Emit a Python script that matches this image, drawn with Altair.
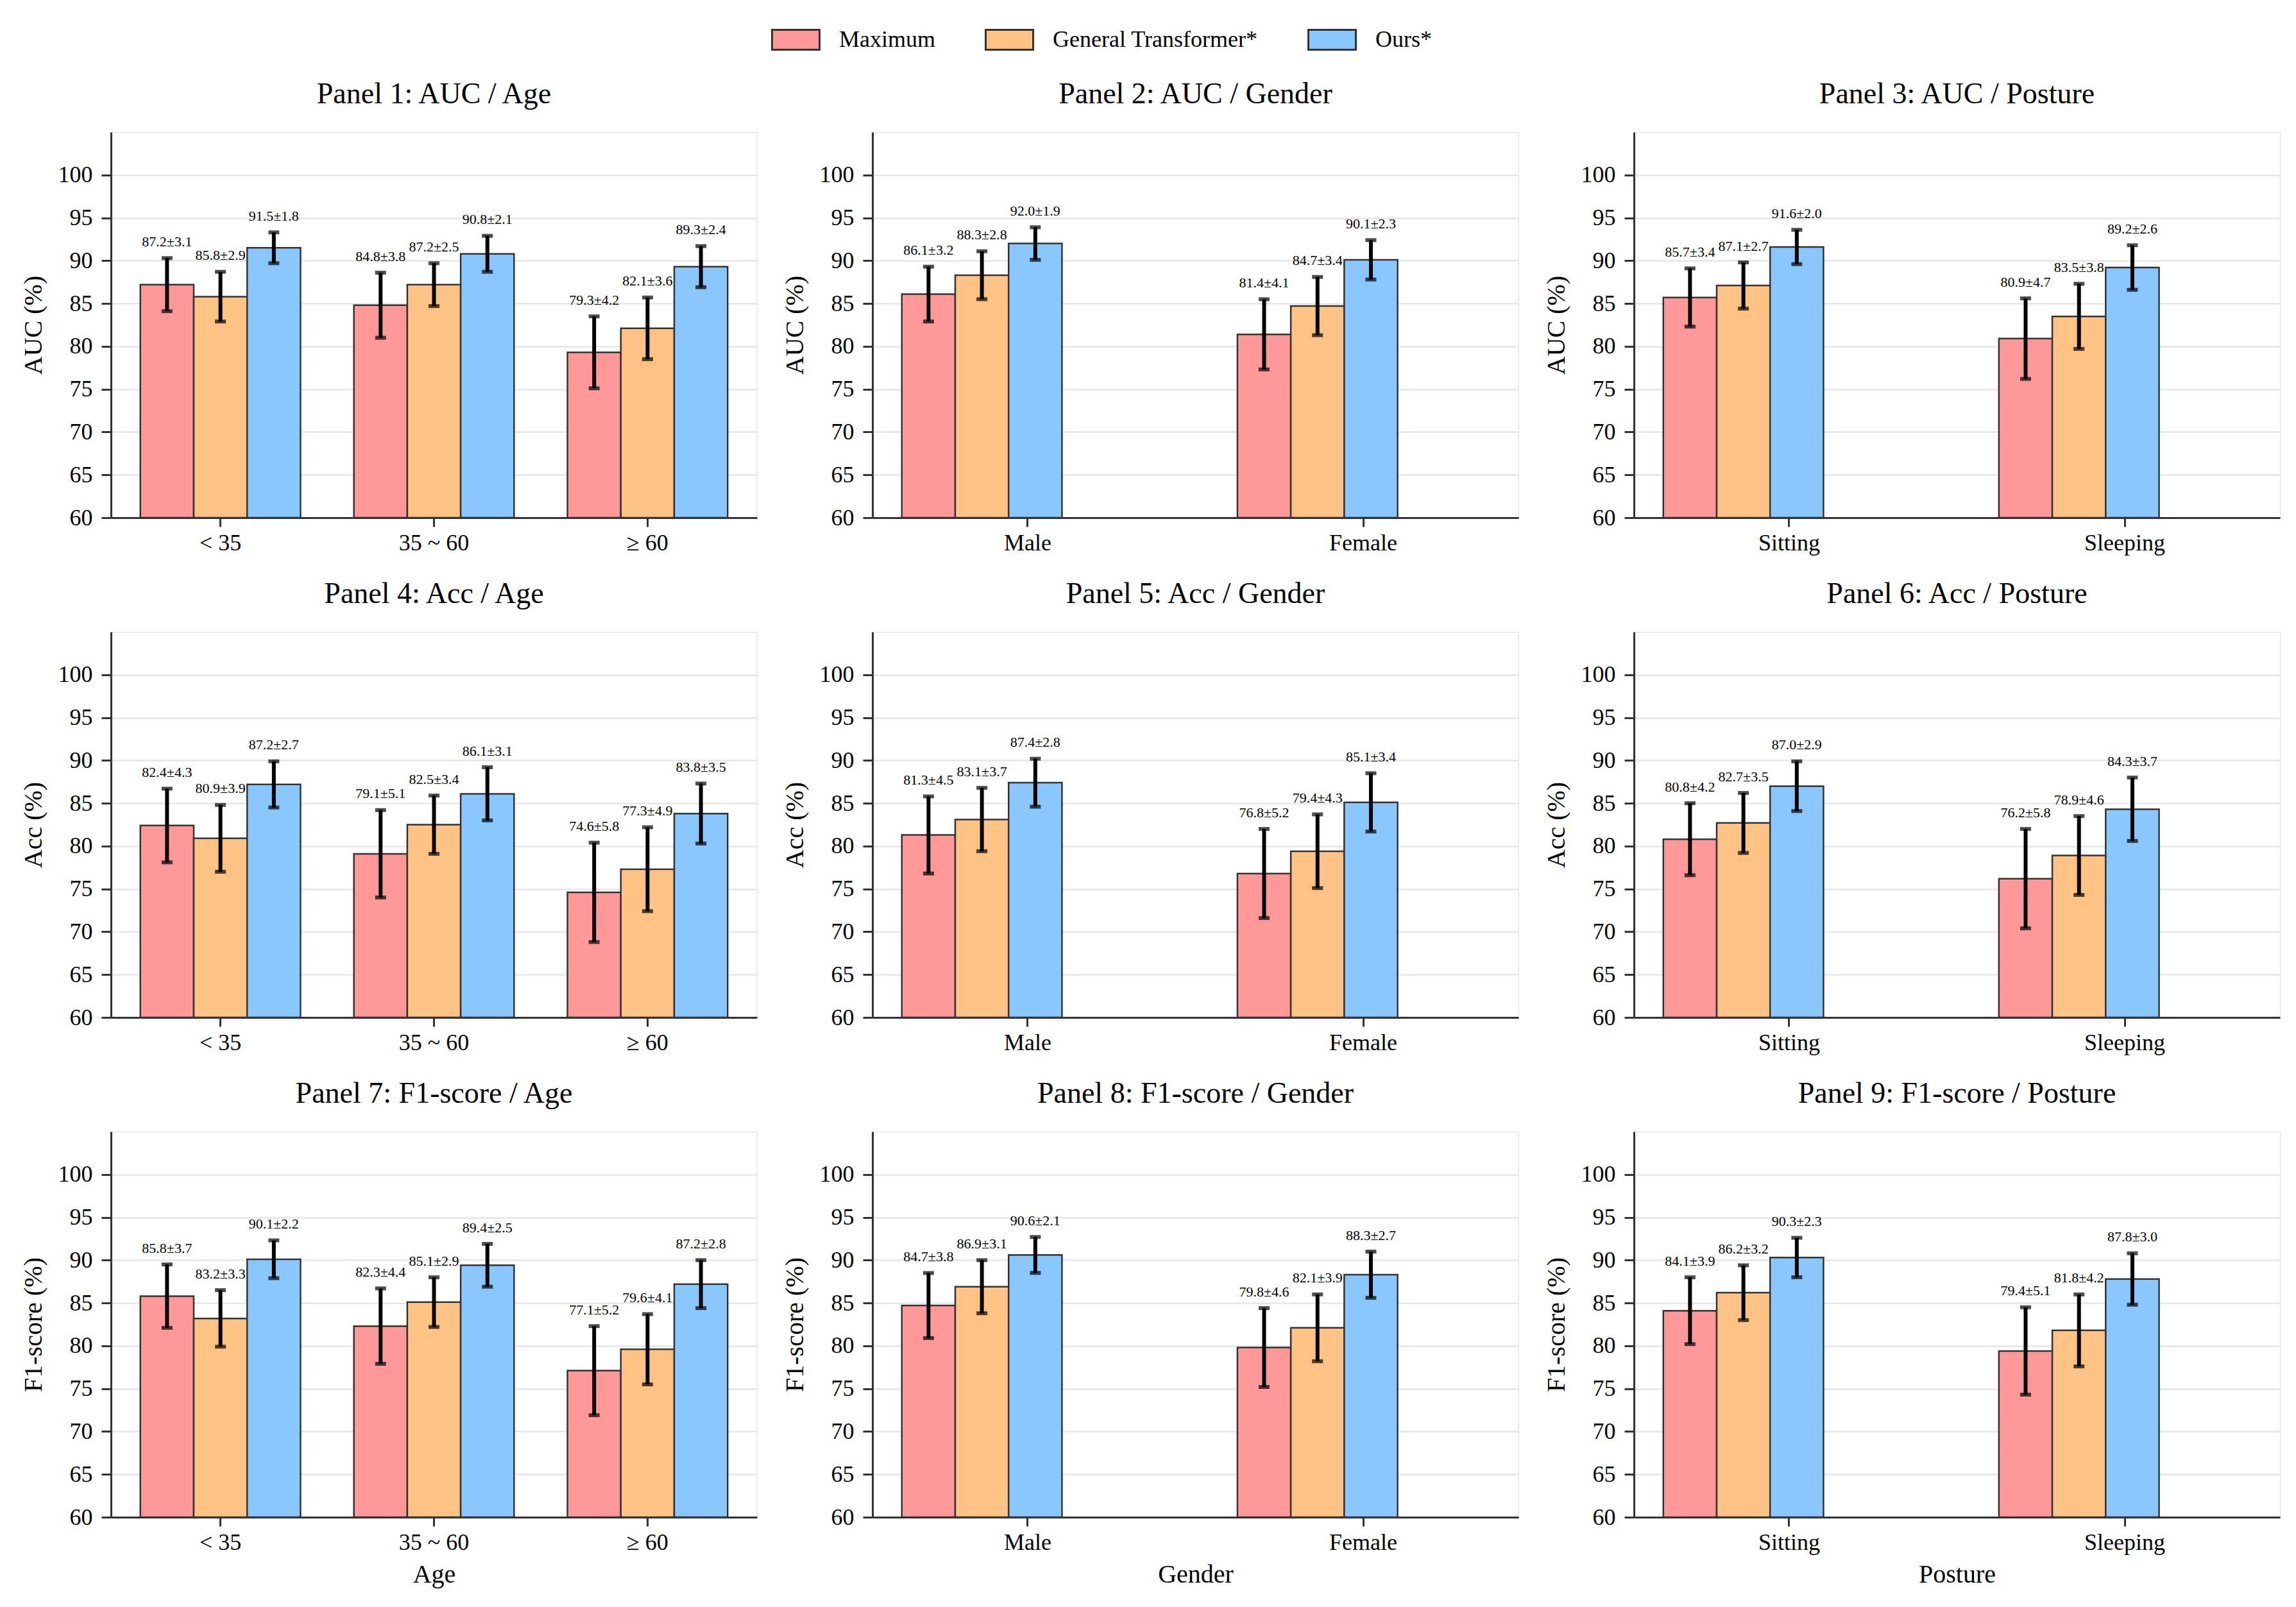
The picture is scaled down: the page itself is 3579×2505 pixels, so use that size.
import altair as alt
import pandas as pd

FONT = "Liberation Serif"

methods = ["Maximum", "General Transformer*", "Ours*"]
colors = ["#FF9999", "#FFC285", "#8AC6FF"]

age_groups = ["< 35", "35 ~ 60", "≥ 60"]
genders = ["Male", "Female"]
postures = ["Sitting", "Sleeping"]

# means / stds per method (rows: Maximum, General Transformer*, Ours*)
auc_age_mean = [[87.2, 84.8, 79.3], [85.8, 87.2, 82.1], [91.5, 90.8, 89.3]]
auc_age_std = [[3.1, 3.8, 4.2], [2.9, 2.5, 3.6], [1.8, 2.1, 2.4]]
auc_gender_mean = [[86.1, 81.4], [88.3, 84.7], [92.0, 90.1]]
auc_gender_std = [[3.2, 4.1], [2.8, 3.4], [1.9, 2.3]]
auc_posture_mean = [[85.7, 80.9], [87.1, 83.5], [91.6, 89.2]]
auc_posture_std = [[3.4, 4.7], [2.7, 3.8], [2.0, 2.6]]

acc_age_mean = [[82.4, 79.1, 74.6], [80.9, 82.5, 77.3], [87.2, 86.1, 83.8]]
acc_age_std = [[4.3, 5.1, 5.8], [3.9, 3.4, 4.9], [2.7, 3.1, 3.5]]
acc_gender_mean = [[81.3, 76.8], [83.1, 79.4], [87.4, 85.1]]
acc_gender_std = [[4.5, 5.2], [3.7, 4.3], [2.8, 3.4]]
acc_posture_mean = [[80.8, 76.2], [82.7, 78.9], [87.0, 84.3]]
acc_posture_std = [[4.2, 5.8], [3.5, 4.6], [2.9, 3.7]]

f1_age_mean = [[85.8, 82.3, 77.1], [83.2, 85.1, 79.6], [90.1, 89.4, 87.2]]
f1_age_std = [[3.7, 4.4, 5.2], [3.3, 2.9, 4.1], [2.2, 2.5, 2.8]]
f1_gender_mean = [[84.7, 79.8], [86.9, 82.1], [90.6, 88.3]]
f1_gender_std = [[3.8, 4.6], [3.1, 3.9], [2.1, 2.7]]
f1_posture_mean = [[84.1, 79.4], [86.2, 81.8], [90.3, 87.8]]
f1_posture_std = [[3.9, 5.1], [3.2, 4.2], [2.3, 3.0]]

y_ticks = [60, 65, 70, 75, 80, 85, 90, 95, 100]

PW, PH = 1007, 601
TICKF = 36
AXTF = 40


def panel(title, cats, means, stds, ytitle, xtitle=None):
    rows = []
    for mi, m in enumerate(methods):
        for ci, c in enumerate(cats):
            mu, sd = means[mi][ci], stds[mi][ci]
            rows.append(dict(cat=c, method=m, mean=mu, lo=mu - sd, hi=mu + sd,
                             lab=f"{mu:.1f}±{sd:.1f}", ly=mu + sd + 1.0))
    df = pd.DataFrame(rows)
    po = 0.1375 if len(cats) == 3 else 0.0875
    xaxis_kw = dict(labelAngle=0, labelFontSize=TICKF, labelFont=FONT, labelColor="black",
                    domainColor="#333333", domainWidth=3, tickColor="#333333",
                    tickWidth=3, tickSize=14, labelPadding=8, grid=False)
    if xtitle:
        xaxis_kw.update(title=xtitle, titleFontSize=AXTF, titleFont=FONT,
                        titleFontWeight="normal", titleColor="black", titlePadding=12)
    else:
        xaxis_kw.update(title="")
    x = alt.X("cat:N", sort=cats,
              scale=alt.Scale(paddingInner=0.25, paddingOuter=po),
              axis=alt.Axis(**xaxis_kw))
    xo = alt.XOffset("method:N", sort=methods)
    yscale = alt.Scale(domain=[60, 105], nice=False, zero=False)
    y = alt.Y("mean:Q", scale=yscale,
              axis=alt.Axis(title=ytitle, values=y_ticks, grid=True, gridColor="#E6E6E6",
                            gridWidth=2.5, labelFontSize=TICKF, labelFont=FONT,
                            labelColor="black", titleFontSize=AXTF, titleFont=FONT,
                            titleFontWeight="normal", titleColor="black", titlePadding=18,
                            domainColor="#333333", domainWidth=3, tickColor="#333333",
                            tickWidth=3, tickSize=15, labelPadding=14))
    color = alt.Color("method:N", sort=methods,
                      scale=alt.Scale(domain=methods, range=colors),
                      legend=alt.Legend(title=None, orient="none", direction="horizontal",
                                        columns=3, legendX=1029, legendY=-183,
                                        labelFont=FONT, labelFontSize=36, labelColor="black",
                                        labelLimit=0,
                                        symbolType="M-1,-0.42L1,-0.42L1,0.42L-1,0.42Z",
                                        symbolSize=5476, symbolStrokeColor="#333333",
                                        symbolStrokeWidth=3, symbolOpacity=1,
                                        labelOffset=29, columnPadding=72))
    base = alt.Chart(df)
    bars = base.mark_bar(stroke="#333333", strokeWidth=2.5, opacity=1).encode(
        x=x, xOffset=xo, y=y, y2=alt.datum(60), color=color)
    err = base.mark_rule(color="black", strokeWidth=6).encode(
        x=x, xOffset=xo, y="lo:Q", y2="hi:Q")
    cap_lo = base.mark_tick(color="black", thickness=6, size=17, orient="horizontal").encode(
        x=x, xOffset=xo, y="lo:Q")
    cap_hi = base.mark_tick(color="black", thickness=6, size=17, orient="horizontal").encode(
        x=x, xOffset=xo, y="hi:Q")
    txt = base.mark_text(font=FONT, fontSize=22, color="black", baseline="bottom").encode(
        x=x, xOffset=xo, y="ly:Q", text="lab:N")
    return alt.layer(bars, err, cap_lo, cap_hi, txt).properties(
        width=PW, height=PH,
        title=alt.TitleParams(title, font=FONT, fontSize=46, fontWeight="normal",
                              color="black", offset=35))


panels = [
    panel("Panel 1: AUC / Age", age_groups, auc_age_mean, auc_age_std, "AUC (%)"),
    panel("Panel 2: AUC / Gender", genders, auc_gender_mean, auc_gender_std, "AUC (%)"),
    panel("Panel 3: AUC / Posture", postures, auc_posture_mean, auc_posture_std, "AUC (%)"),
    panel("Panel 4: Acc / Age", age_groups, acc_age_mean, acc_age_std, "Acc (%)"),
    panel("Panel 5: Acc / Gender", genders, acc_gender_mean, acc_gender_std, "Acc (%)"),
    panel("Panel 6: Acc / Posture", postures, acc_posture_mean, acc_posture_std, "Acc (%)"),
    panel("Panel 7: F1-score / Age", age_groups, f1_age_mean, f1_age_std, "F1-score (%)", "Age"),
    panel("Panel 8: F1-score / Gender", genders, f1_gender_mean, f1_gender_std, "F1-score (%)", "Gender"),
    panel("Panel 9: F1-score / Posture", postures, f1_posture_mean, f1_posture_std, "F1-score (%)", "Posture"),
]

chart = alt.concat(*panels, columns=3,
                   spacing=alt.RowColnumber(row=178, column=180),
                   bounds="flush").resolve_scale(color="shared").properties(
    padding={"left": 23, "top": 15, "right": 5, "bottom": 5},
    background="white",
).configure_view(stroke=None).configure(font=FONT)

chart.save("out.html", embed_options={"renderer": "svg", "actions": False})
